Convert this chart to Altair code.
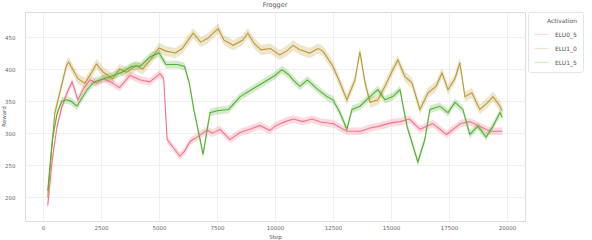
import altair as alt
import pandas as pd

series_names = ["ELU0_5", "ELU1_0", "ELU1_5"]
series_colors = ["#f77189", "#bb9832", "#50b131"]
band_half = [6, 8, 6]

pink_steps = [200, 400, 600, 800, 1000, 1250, 1500, 1750, 2030, 2300, 2600, 2900, 3300, 3750, 4200, 4600, 5040, 5200, 5350, 5600, 5900, 6100, 6340, 6770, 7070, 7300, 7630, 8060, 8490, 8920, 9350, 9780, 10000, 10430, 10800, 11200, 11600, 12000, 12500, 13100, 13700, 14100, 14500, 15000, 15400, 15800, 16250, 16800, 17400, 18000, 18400, 18800, 19270, 19800]
pink_vals = [187, 260, 310, 340, 360, 380, 352, 370, 383, 378, 385, 380, 371, 390, 383, 380, 393, 385, 290, 278, 264, 272, 287, 297, 305, 300, 306, 290, 301, 306, 312, 304, 311, 318, 322, 318, 322, 317, 315, 303, 303, 308, 311, 316, 318, 322, 306, 315, 298, 315, 318, 311, 303, 303]

gold_steps = [200, 500, 700, 1000, 1100, 1300, 1500, 1800, 2100, 2300, 2600, 3000, 3300, 3600, 4000, 4300, 4600, 5000, 5300, 5700, 6000, 6470, 6800, 7100, 7550, 7800, 8200, 8600, 8830, 9100, 9400, 9800, 10200, 10500, 10780, 11070, 11500, 11850, 12070, 12500, 12800, 13100, 13450, 13660, 13880, 14100, 14440, 14740, 15080, 15300, 15600, 15900, 16250, 16600, 16940, 17200, 17460, 17760, 17970, 18190, 18490, 18830, 19180, 19400, 19700, 19800]
gold_vals = [200, 330, 360, 405, 411, 398, 385, 378, 395, 408, 395, 385, 400, 395, 405, 400, 413, 433, 428, 425, 432, 456, 442, 448, 463, 445, 437, 445, 456, 440, 430, 432, 422, 428, 437, 430, 425, 432, 428, 404, 379, 352, 383, 427, 379, 348, 352, 373, 399, 414, 388, 379, 337, 363, 373, 394, 368, 385, 410, 357, 363, 337, 348, 357, 342, 335]

green_steps = [200, 400, 600, 800, 1000, 1200, 1460, 1900, 2200, 2600, 2890, 3400, 3800, 4200, 4600, 5000, 5300, 5800, 6100, 6300, 6500, 6900, 7100, 7200, 7500, 8000, 8500, 9000, 9500, 10000, 10300, 10600, 10780, 11070, 11400, 11850, 12240, 12500, 12800, 13100, 13320, 13660, 14100, 14440, 14740, 15080, 15390, 15690, 16160, 16460, 16680, 17110, 17460, 17760, 18100, 18400, 18750, 19100, 19400, 19700, 19800]
green_vals = [210, 290, 330, 350, 352, 350, 342, 368, 380, 385, 388, 395, 404, 405, 419, 425, 407, 407, 404, 379, 337, 267, 311, 332, 335, 337, 357, 368, 379, 390, 399, 391, 383, 373, 383, 368, 357, 352, 332, 306, 337, 342, 357, 368, 352, 357, 368, 311, 255, 290, 337, 342, 332, 348, 337, 298, 311, 294, 311, 332, 325]

x_ticks = [0, 2500, 5000, 7500, 10000, 12500, 15000, 17500, 20000]
y_ticks = [200, 250, 300, 350, 400, 450]

rows = []
for name, half, steps, vals in zip(series_names, band_half,
                                   [pink_steps, gold_steps, green_steps],
                                   [pink_vals, gold_vals, green_vals]):
    for s, v in zip(steps, vals):
        rows.append({"Step": s, "Reward": v, "lo": v - half, "hi": v + half, "Activation": name})
df = pd.DataFrame(rows)

xs = alt.Scale(domain=[-780, 20780], nice=False, zero=False)
ys = alt.Scale(domain=[163, 489], nice=False, zero=False)
cs = alt.Scale(domain=series_names, range=series_colors)

legend = alt.Legend(title="Activation", orient="none",
                    legendX=503, legendY=0,
                    symbolType="stroke", symbolStrokeWidth=1.2,
                    symbolSize=190, labelFontSize=6,
                    titleFontSize=6, titleFontWeight="normal",
                    titleColor="#555", labelColor="#555",
                    titleAlign="right", titleAnchor="end", titlePadding=3,
                    rowPadding=3, padding=6, labelOffset=6,
                    fillColor="white", strokeColor="#e4e4e4",
                    cornerRadius=2)

common = dict(grid=True, format="d", labelFontSize=5.5, labelColor="#666",
              titleFontSize=5.5, titleFontWeight="normal", titleColor="#555",
              gridColor="#ebebeb", gridWidth=0.8, domain=False, ticks=False,
              titleBaseline="middle", titleAlign="center")
x_axis = alt.Axis(values=x_ticks, title="Step", titleX=250, titleY=15,
                  labelPadding=4, **common)
y_axis = alt.Axis(values=y_ticks, title="Reward", titleX=-22, titleY=104,
                  titleAngle=270, labelPadding=10, **common)

base = alt.Chart(df)

band = base.mark_area(opacity=0.25, interpolate="linear").encode(
    x=alt.X("Step:Q", scale=xs, axis=x_axis),
    y=alt.Y("lo:Q", scale=ys, axis=y_axis),
    y2="hi:Q",
    color=alt.Color("Activation:N", scale=cs, legend=legend),
    detail="Activation:N",
)

line = base.mark_line(strokeWidth=1.1).encode(
    x=alt.X("Step:Q", scale=xs, axis=x_axis),
    y=alt.Y("Reward:Q", scale=ys, axis=y_axis),
    color=alt.Color("Activation:N", scale=cs, legend=legend),
)

chart = (band + line).properties(
    width=500, height=209,
    title=alt.Title("Frogger", fontSize=6.5, fontWeight="normal", color="#555", offset=3),
    autosize=alt.AutoSizeParams(type="none"),
    padding={"left": 25, "top": 12, "right": 67, "bottom": 19},
).configure(font="DejaVu Sans", background="white").configure_view(
    stroke="#dcdcdc", strokeWidth=1
)

chart.save("out.html", embed_options={"renderer": "svg", "actions": False})
